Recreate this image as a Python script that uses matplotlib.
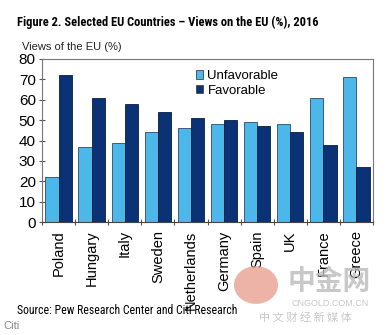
import matplotlib
matplotlib.use("Agg")
import matplotlib.pyplot as plt
import numpy as np
from matplotlib.patches import Circle

countries = ["Poland", "Hungary", "Italy", "Sweden", "Netherlands", "Germany", "Spain", "UK", "France", "Greece"]
unfavorable = [22, 37, 39, 44, 46, 48, 49, 48, 61, 71]
favorable = [72, 61, 58, 54, 51, 50, 47, 44, 38, 27]
yticks = [0, 10, 20, 30, 40, 50, 60, 70, 80]

light = "#4cb8ea"
dark = "#0b3274"

plt.rcParams['font.family'] = ['Liberation Sans', 'DejaVu Sans']

fig = plt.figure(figsize=(3.9, 3.35), dpi=100)
ax = fig.add_axes([42/390, 1-222/335, 331/390, (222-59)/335])

x = np.arange(len(countries))
w = 0.4
ax.bar(x - w/2, unfavorable, w, color=light, edgecolor="#2a4a6a", linewidth=0.6, label="Unfavorable")
ax.bar(x + w/2, favorable, w, color=dark, edgecolor="#0a1f40", linewidth=0.6, label="Favorable")

ax.set_xlim(-0.5, len(countries) - 0.5)
ax.set_ylim(0, 80)
ax.set_yticks(yticks)
ax.set_yticklabels([str(v) for v in yticks], fontsize=11)
ax.tick_params(axis='y', direction='inout', length=5, width=0.8, pad=2, color="#555555")

ax.set_xticks(x)
ax.set_xticklabels(countries, rotation=90, fontsize=10.5, va='top')
ax.tick_params(axis='x', length=0, pad=6)
ax.set_xticks(np.arange(-0.5, len(countries), 1), minor=True)
ax.tick_params(axis='x', which='minor', direction='inout', length=5, width=0.8, color="#555555")

for s in ax.spines.values():
    s.set_color("#777777")
    s.set_linewidth(0.8)
ax.spines['bottom'].set_color("#444444")

leg = ax.legend(loc='upper left', bbox_to_anchor=(0.44, 0.98), frameon=False, fontsize=9.5,
                handlelength=0.6, handleheight=0.6, handletextpad=0.3, labelspacing=0.2,
                borderaxespad=0.2)
for h in leg.legend_handles:
    h.set_edgecolor("#444444")

cfam = ['Roboto Condensed', 'DejaVu Sans']
fig.text(17/390, 1-22/335, "Figure 2. Selected EU Countries \u2013 Views on the EU (%), 2016",
         fontsize=9, fontweight='bold', va='center', ha='left', family=cfam)
fig.text(22/390, 1-47/335, "Views of the EU (%)", fontsize=8, va='center', ha='left', color="#222222")
fig.text(17/390, 1-310/335, "Source: Pew Research Center and Citi Research", fontsize=8.5, va='center', ha='left',
         family=cfam)
fig.text(3/390, 1-326/335, "Citi", fontsize=8, va='center', ha='left', color="#888888")

# watermark
fig.patches.append(Circle((256/390, 1-285/335), 22/390, transform=fig.transFigure,
                          facecolor="#e8a090", edgecolor="none", alpha=0.8))
fig.text(329/390, 1-282/335, "中金网", fontsize=20, color="#bbbbbb", alpha=0.8, ha='center', va='center',
         family=['Noto Sans CJK SC', 'DejaVu Sans'], fontweight='bold')
fig.text(330/390, 1-304/335, "CNGOLD.COM.CN", fontsize=6.5, color="#c8c8c8", ha='center', va='center')
fig.text(305/390, 1-317/335, "中 文 财 经 新 媒 体", fontsize=8, color="#c8c8c8", ha='center', va='center',
         family=['Noto Sans CJK SC', 'DejaVu Sans'])

fig.savefig("out.png", dpi=100)
